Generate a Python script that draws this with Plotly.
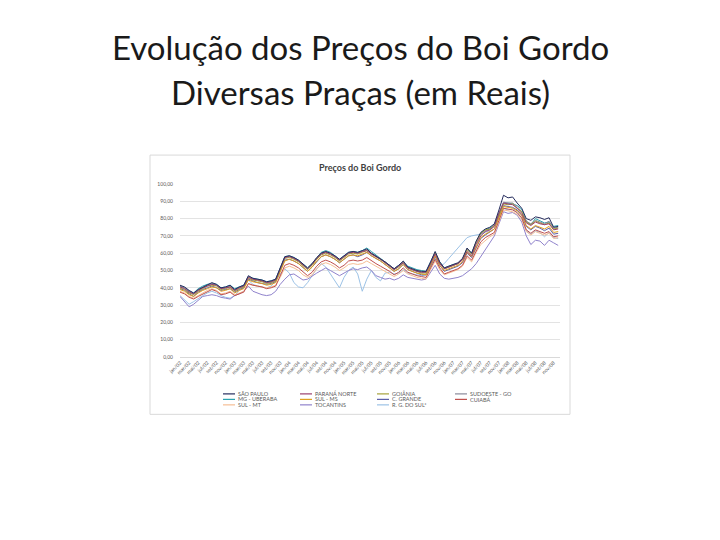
import plotly.graph_objects as go

SERIES_NAMES = ["SÃO PAULO", "PARANÁ NORTE", "GOIÂNIA", "SUDOESTE - GO",
                "MG - UBERABA", "SUL - MS", "C. GRANDE", "CUIABÁ",
                "SUL - MT", "TOCANTINS", "R. G. DO SUL*"]
COLORS = ["#262d5e", "#9b3f6e", "#a6a23a", "#8a8a9a", "#2ba3b0", "#e0a020",
          "#5d5fa8", "#c0504d", "#f6be94", "#9083cc", "#9cc2e6"]

SAO_PAULO = [41.5,40.5,38.5,37.0,39.0,40.5,42.0,43.0,42.0,40.0,
 40.5,41.5,39.0,40.5,41.5,47.0,45.5,45.0,44.5,43.5,
 44.0,45.0,52.0,58.0,58.5,57.5,56.0,53.5,51.5,54.0,
 57.5,60.0,61.0,60.0,58.5,56.5,58.5,60.5,61.0,60.5,
 61.5,62.5,60.0,58.5,57.0,55.0,53.0,51.0,53.0,55.5,
 52.0,51.0,50.0,49.5,49.5,55.0,61.0,55.0,51.5,52.5,
 53.5,54.5,57.0,63.0,60.0,67.0,72.0,74.0,75.0,77.0,
 85.0,93.5,92.0,92.5,89.0,86.0,80.0,79.0,81.0,80.5,
 79.5,80.5,75.0,75.5]
PARANA_NORTE = [40.5,39.5,37.5,36.5,38.5,40.0,41.0,42.0,41.5,39.5,
 40.0,40.5,38.5,40.0,41.0,46.0,45.0,44.5,44.0,43.0,
 43.5,44.5,51.0,57.5,58.0,57.0,55.5,53.0,51.0,53.5,
 57.0,59.5,60.5,59.5,58.0,56.0,58.0,60.0,60.5,60.0,
 61.0,61.5,59.5,58.0,56.5,54.5,52.5,50.5,52.5,54.5,
 51.5,50.5,49.5,49.0,49.0,54.0,59.5,54.0,51.0,52.0,
 53.0,54.0,56.0,61.0,58.5,65.0,70.0,72.5,73.5,75.5,
 83.0,89.0,88.5,88.0,86.0,83.0,77.5,76.0,78.0,77.0,
 76.5,77.0,73.5,74.0]
GOIANIA = [40.0,39.0,37.0,36.0,38.0,39.5,41.0,41.5,41.0,39.0,
 39.5,40.5,38.0,39.5,40.5,45.5,44.5,44.0,43.5,42.5,
 43.0,44.0,50.5,57.0,57.5,56.5,55.0,52.5,50.5,53.0,
 56.5,59.0,60.0,59.0,57.5,55.5,57.5,59.5,60.0,59.5,
 60.5,61.5,59.5,58.0,56.5,54.5,52.5,50.5,52.0,54.5,
 51.5,50.5,49.5,48.5,48.5,54.5,60.0,54.5,51.0,52.0,
 53.0,54.0,56.5,62.0,59.5,66.5,71.5,73.5,74.0,76.0,
 82.0,88.5,88.0,88.5,86.0,84.0,78.0,76.5,78.5,77.5,
 76.5,77.5,74.0,74.5]
SUDOESTE_GO = [41.0,40.0,38.0,36.5,38.5,40.0,41.5,42.5,41.5,39.5,
 40.0,41.0,38.5,40.0,41.0,46.5,45.0,44.5,44.0,43.0,
 43.5,44.5,51.5,57.5,58.5,57.0,55.5,53.0,51.0,53.5,
 57.0,60.0,61.0,60.0,58.0,56.0,58.0,60.0,61.0,60.0,
 61.0,62.0,60.0,58.5,57.0,55.0,53.0,51.0,52.5,55.0,
 51.5,50.5,49.5,49.0,49.0,54.5,60.5,54.5,51.0,52.0,
 53.0,54.0,56.5,62.5,59.5,66.0,71.0,73.0,74.0,76.5,
 83.5,89.5,89.0,89.0,87.0,84.0,78.5,77.0,79.0,78.0,
 77.0,78.5,74.5,75.0]
MG_UBERABA = [41.0,40.0,38.0,37.0,39.5,41.0,42.0,42.5,42.0,40.0,
 40.5,41.5,39.5,40.5,41.5,46.5,45.5,45.0,44.5,43.5,
 44.0,45.0,51.5,58.0,58.5,57.5,56.0,54.0,51.5,54.0,
 57.5,60.5,61.5,60.5,58.5,56.5,58.5,60.5,61.0,60.5,
 61.5,63.0,61.0,59.0,57.5,55.5,53.5,51.0,53.0,55.0,
 52.5,51.5,50.5,50.0,49.5,55.0,60.5,55.0,51.5,52.5,
 53.5,54.0,56.5,62.5,60.0,66.5,71.5,73.5,74.5,76.5,
 83.0,89.0,89.0,88.5,87.5,85.5,78.5,76.5,80.0,78.5,
 77.5,78.0,75.5,76.0]
SUL_MS = [39.0,38.0,36.0,35.0,37.0,38.5,39.5,40.5,40.0,38.0,
 38.5,39.5,37.0,38.5,39.5,44.5,43.5,43.0,42.5,41.5,
 42.0,43.0,49.5,55.5,56.5,55.5,54.0,51.5,49.5,52.0,
 55.5,58.0,59.0,58.0,56.5,54.5,56.5,58.5,59.0,58.5,
 59.5,60.5,58.5,57.0,55.5,53.5,51.5,49.5,51.0,53.5,
 50.5,49.5,48.5,48.0,47.5,53.0,58.5,53.0,50.0,51.0,
 52.0,53.0,55.0,60.5,58.0,64.0,69.0,71.0,72.5,74.0,
 80.5,87.0,86.5,86.0,84.5,82.0,76.0,74.0,76.0,75.0,
 74.0,75.5,72.0,72.5]
C_GRANDE = [39.5,38.5,36.5,35.0,37.5,39.0,40.0,41.0,40.0,38.5,
 39.0,39.5,37.5,39.0,40.0,45.0,44.0,43.0,42.5,42.0,
 42.5,43.5,50.0,56.0,56.5,55.5,54.0,51.5,49.5,52.0,
 55.0,58.0,59.0,58.0,56.5,54.5,56.5,58.5,59.0,58.0,
 59.0,60.5,58.5,57.0,55.5,53.5,51.5,49.5,51.0,53.5,
 50.5,49.5,48.5,47.5,47.5,53.0,58.0,53.0,49.5,50.5,
 51.5,52.5,54.5,60.0,57.5,63.5,68.5,70.5,72.0,74.0,
 81.0,87.5,87.0,86.5,85.0,82.0,75.5,73.5,75.5,74.5,
 73.0,74.5,71.0,71.5]
CUIABA = [37.5,36.5,34.5,33.5,35.0,36.5,38.0,39.0,38.0,36.0,
 36.5,37.5,35.5,36.5,37.5,42.5,41.5,41.0,40.5,39.5,
 40.0,41.0,47.0,53.0,54.0,53.0,51.5,49.0,47.0,49.0,
 52.5,55.0,56.0,55.0,53.5,51.5,53.0,55.5,56.0,55.5,
 56.0,57.5,55.5,54.0,52.5,51.0,49.5,47.5,49.0,51.5,
 49.0,48.0,47.0,46.5,46.0,51.5,56.5,51.5,48.0,49.0,
 50.0,51.0,53.0,58.5,56.0,61.5,66.5,69.0,70.5,72.0,
 79.0,86.0,85.5,85.0,83.5,80.5,73.5,71.5,73.5,72.5,
 71.5,72.5,69.5,70.0]
SUL_MT = [38.0,37.0,35.0,34.0,35.5,37.0,38.5,39.5,38.5,36.5,
 37.0,38.0,36.0,37.0,38.0,42.0,41.5,41.0,40.5,40.0,
 40.5,41.5,46.0,51.5,52.5,51.5,50.0,47.5,46.0,47.5,
 51.0,53.5,54.5,53.5,52.0,50.0,51.5,53.5,54.0,53.5,
 54.0,55.5,54.0,52.5,51.0,49.5,48.0,46.5,48.0,50.0,
 48.0,47.0,46.0,45.5,45.0,50.5,55.5,50.5,47.5,48.5,
 49.5,50.5,52.5,57.5,55.0,60.5,65.0,67.5,69.5,71.0,
 78.0,85.0,84.5,84.0,82.5,79.5,72.5,70.5,72.5,71.5,
 70.5,71.5,68.5,69.0]
TOCANTINS = [35.0,32.0,29.0,30.5,33.0,35.0,35.5,36.0,35.5,34.5,
 34.0,33.5,35.5,36.5,38.0,41.0,38.0,37.0,36.0,35.5,
 36.0,38.0,42.0,45.0,47.5,48.0,46.0,44.5,45.0,47.0,
 48.5,50.0,51.5,50.0,48.5,47.0,48.5,50.0,51.0,50.5,
 51.5,52.0,50.0,47.0,46.0,45.0,45.5,44.5,45.5,47.5,
 46.0,45.5,45.0,44.5,45.0,49.0,53.0,48.0,45.5,45.0,
 45.5,46.0,47.0,49.0,51.0,54.0,58.0,62.0,66.0,70.0,
 77.0,84.0,83.0,83.5,82.0,78.0,70.0,65.0,67.5,67.0,
 64.5,67.5,66.0,64.5]
RG_DO_SUL = [35.5,33.0,30.5,32.0,34.0,35.5,37.0,38.0,37.0,35.5,
 34.5,34.0,35.5,38.5,40.0,44.5,42.0,41.0,40.5,40.0,
 41.0,44.0,48.0,51.0,48.5,43.0,40.5,40.0,43.0,47.0,
 51.0,54.0,52.0,48.0,44.0,40.0,46.0,50.0,52.0,48.0,
 38.0,45.0,50.0,46.0,44.0,48.5,49.0,48.0,48.5,50.5,
 48.5,48.0,47.5,47.0,47.5,52.0,57.0,52.0,54.0,57.0,
 60.0,63.0,66.0,69.0,70.0,70.5,71.0,72.0,73.0,76.0,
 82.0,86.0,85.0,85.5,83.5,80.0,73.0,71.0,73.0,72.0,
 69.5,72.0,69.0,68.5]

SERIES = [SAO_PAULO, PARANA_NORTE, GOIANIA, SUDOESTE_GO, MG_UBERABA, SUL_MS,
          C_GRANDE, CUIABA, SUL_MT, TOCANTINS, RG_DO_SUL]

TICK_LABELS = ["jan/02","mar/02","mai/02","jul/02","set/02","nov/02",
 "jan/03","mar/03","mai/03","jul/03","set/03","nov/03",
 "jan/04","mar/04","mai/04","jul/04","set/04","nov/04",
 "jan/05","mar/05","mai/05","jul/05","set/05","nov/05",
 "jan/06","mar/06","mai/06","jul/06","set/06","nov/06",
 "jan/07","mar/07","mai/07","jul/07","set/07","nov/07",
 "jan/08","mar/08","mai/08","jul/08","set/08","nov/08"]
Y_TICKS = [0, 10, 20, 30, 40, 50, 60, 70, 80, 90, 100]
Y_LABELS = ["0,00","10,00","20,00","30,00","40,00","50,00",
            "60,00","70,00","80,00","90,00","100,00"]

FONT = "Lato"
x_idx = list(range(len(SAO_PAULO)))

fig = go.Figure()
# draw in reverse so São Paulo is on top
for name, vals, col in reversed(list(zip(SERIES_NAMES, SERIES, COLORS))):
    fig.add_trace(go.Scatter(x=x_idx, y=vals, mode="lines", name=name,
                             line=dict(color=col, width=1), showlegend=False))

# page body has an 8px margin; target screen coords are compensated
OFF = 8
# plot area on screen: x 180..560, y 184..357.5
SX0, SX1, SY0, SY1 = 180, 560, 184, 357.5
L, T = SX0 - OFF, SY0 - OFF
R, B = 720 - (SX1 - OFF), 540 - (SY1 - OFF)
PW, PH = SX1 - SX0, SY1 - SY0
def px(x): return (x - SX0) / PW
def py(y): return (SY1 - y) / PH

shapes = [dict(type="rect", xref="paper", yref="paper",
               x0=px(150), x1=px(570), y0=py(415), y1=py(155),
               line=dict(color="#d9d9d9", width=1), fillcolor="rgba(0,0,0,0)", layer="below")]
annotations = [
    dict(text="Evolução dos Preços do Boi Gordo", x=px(360), y=py(47), xref="paper", yref="paper",
         showarrow=False, font=dict(family=FONT, size=33, color="#1a1a1a"), xanchor="center", yanchor="middle"),
    dict(text="Diversas Praças (em Reais)", x=px(360), y=py(92), xref="paper", yref="paper",
         showarrow=False, font=dict(family=FONT, size=33, color="#1a1a1a"), xanchor="center", yanchor="middle"),
    dict(text="<b>Preços do Boi Gordo</b>", x=px(360), y=py(167), xref="paper", yref="paper",
         showarrow=False, font=dict(family=FONT, size=9, color="#404040"), xanchor="center", yanchor="middle"),
]
# compact legend (4 columns, 3 rows)
col_x = [223, 300, 377, 455]
row_y = [394.5, 400, 405.5]
for k, (name, col) in enumerate(zip(SERIES_NAMES, COLORS)):
    r, c = divmod(k, 4)
    x0 = col_x[c]
    y0 = row_y[r]
    shapes.append(dict(type="line", xref="paper", yref="paper",
                       x0=px(x0), x1=px(x0 + 12), y0=py(y0), y1=py(y0),
                       line=dict(color=col, width=1.2)))
    annotations.append(dict(text=name, x=px(x0 + 13), y=py(y0), xref="paper", yref="paper",
                            showarrow=False, xanchor="left", yanchor="middle",
                            font=dict(family=FONT, size=5.5, color="#595959")))

fig.update_layout(
    width=720, height=540,
    margin=dict(l=L, r=R, t=T, b=B, pad=0),
    paper_bgcolor="white", plot_bgcolor="white",
    shapes=shapes, annotations=annotations,
    showlegend=False,
    xaxis=dict(range=[0, 83.4], tickmode="array",
               tickvals=list(range(0, len(SAO_PAULO), 2)), ticktext=TICK_LABELS,
               tickangle=-45, tickfont=dict(family=FONT, size=5, color="#595959"),
               showgrid=False, zeroline=False, showline=True, linecolor="#d9d9d9",
               linewidth=1, ticks=""),
    yaxis=dict(range=[0, 100], tickmode="array", tickvals=Y_TICKS, ticktext=Y_LABELS,
               tickfont=dict(family=FONT, size=5, color="#595959"),
               showgrid=True, gridcolor="#e3e3e3", gridwidth=1, zeroline=False,
               showline=False, ticks="", ticklabelstandoff=6),
)

fig.write_html("out.html")
